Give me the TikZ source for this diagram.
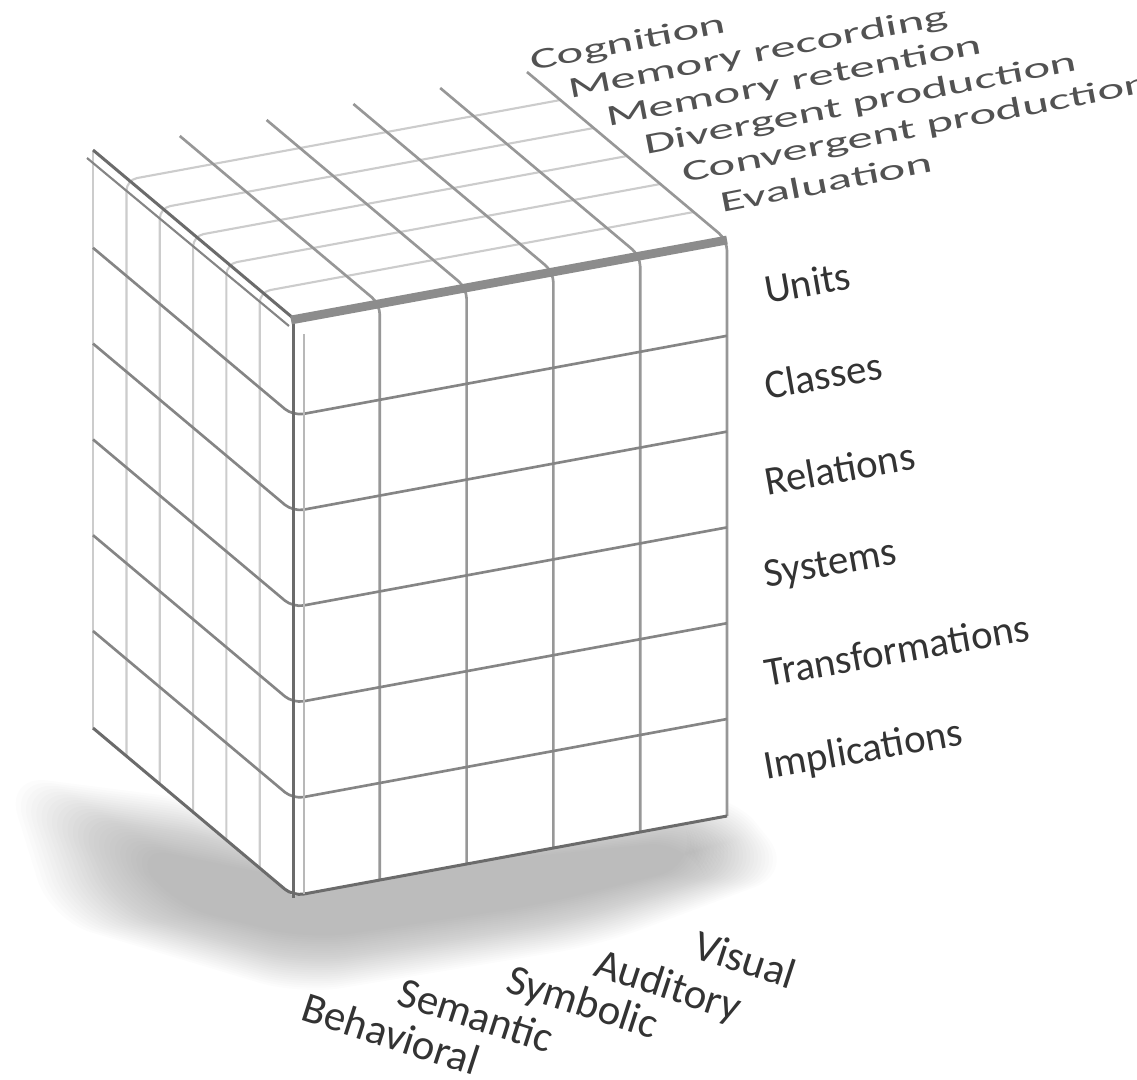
\documentclass[tikz,border=0pt]{standalone}
\usepackage{fontspec}
\setmainfont{Carlito}
\usetikzlibrary{calc}

\definecolor{edgegray}{gray}{0.42}
\definecolor{gridgray}{gray}{0.52}
\definecolor{lightgrid}{gray}{0.80}
\definecolor{labelgray}{gray}{0.20}

\tikzset{
  gridline/.style={draw=gridgray, line width=0.75pt, rounded corners=3pt},
  faintline/.style={draw=lightgrid, line width=0.6pt, rounded corners=3pt},
  edgeline/.style={draw=edgegray, line width=0.85pt},
  oplabel/.style={anchor=west, rotate=10, inner sep=0pt, text=labelgray,
    font=\fontsize{11.6}{13}\selectfont},
  contentlabel/.style={anchor=north west, rotate=-18, inner sep=0pt, text=labelgray,
    font=\fontsize{12.2}{13}\selectfont},
  prodlabel/.style={anchor=west, rotate=11, inner sep=0pt, text=labelgray!85,
    font=\fontsize{11.6}{13}\selectfont}
}

\begin{document}
\begin{tikzpicture}[x=0.01cm, y=-0.01cm]
    \useasboundingbox (0,0) rectangle (1137,1079);

    % Shadow under the cube
    \coordinate (so1) at (5,775);   \coordinate (si1) at (130,845);
    \coordinate (so2) at (200,800); \coordinate (si2) at (250,870);
    \coordinate (so3) at (300,860); \coordinate (si3) at (300,880);
    \coordinate (so4) at (730,790); \coordinate (si4) at (690,840);
    \coordinate (so5) at (795,872); \coordinate (si5) at (700,865);
    \coordinate (so6) at (600,945); \coordinate (si6) at (540,905);
    \coordinate (so7) at (300,995); \coordinate (si7) at (310,940);
    \coordinate (so8) at (50,920);  \coordinate (si8) at (170,905);
    \foreach \t in {0,0.04,...,1.01}
        \fill[black, opacity=0.012, rounded corners=12pt]
            ($(so1)!\t!(si1)$) -- ($(so2)!\t!(si2)$) -- ($(so3)!\t!(si3)$) -- ($(so4)!\t!(si4)$)
            -- ($(so5)!\t!(si5)$) -- ($(so6)!\t!(si6)$) -- ($(so7)!\t!(si7)$) -- ($(so8)!\t!(si8)$) -- cycle;

    % Faces
    \fill[white] (93,152) -- (293,320) -- (293,896) -- (93,728) -- cycle;
    \fill[white] (93,152) -- (293,320) -- (727,240) -- (527,72) -- cycle;
    \fill[white] (293,320) -- (727,240) -- (727,816) -- (293,896) -- cycle;

    % Left face verticals running on into the top face
    \draw[faintline] (93,728) -- (93,152);
    \foreach \k in {1,...,5}
        \draw[faintline] (293-33.3*\k,896-28*\k) -- (293-33.3*\k,320-28*\k)
            -- (727-33.3*\k,240-28*\k);

    % Front face columns running on into the top face
    \foreach \i in {1,...,5}
        \draw[gridline, draw=gridgray!85] (293+86.8*\i,896-16*\i) -- (293+86.8*\i,320-16*\i)
            -- (93+86.8*\i,152-16*\i);

    % Rows wrapping from the left face onto the front face
    \foreach \j in {1,...,5}
        \draw[gridline] (93,152+95.8*\j) -- (293,320+95.8*\j) -- (727,240+95.8*\j);
    \draw[edgeline, rounded corners=3pt] (93,728) -- (293,896) -- (727,816);

    % Cube edges
    \draw[edgeline] (293,322) -- (293,898);
    \draw[draw=lightgrid!90!black, line width=0.7pt] (304,334) -- (304,894);
    \draw[edgeline] (93,150) -- (293,318);
    \draw[draw=gridgray, line width=0.6pt] (87,158) -- (289,326);
    \draw[draw=gray!90, line width=2.5pt] (291,320) -- (727,240);

    % Operations (rows)
    \foreach \name/\txt [count=\j from 0] in {units/Units, classes/Classes, relations/Relations,
            systems/Systems, transformations/Transformations, implications/Implications}
        \node[oplabel] (\name) at (764,290+95.8*\j) {\txt};

    % Contents (columns)
    \node[contentlabel] (behavioral) at (308,990) {Behavioral};
    \node[contentlabel] (semantic)   at (404,975) {Semantic};
    \node[contentlabel] (symbolic)   at (513,962) {Symbolic};
    \node[contentlabel] (auditory)   at (601,946) {Auditory};
    \node[contentlabel] (visual)     at (700,928) {Visual};

    % Products (depth)
    \foreach \name/\txt [count=\k from 0] in {evaluation/Evaluation,
            convergent/Convergent production, divergent/Divergent production,
            retention/Memory retention, recording/Memory recording, cognition/Cognition}
        \node[prodlabel] (\name) at (720-38*\k,203-28*\k) {\scalebox{1.25}[0.72]{\txt}};
\end{tikzpicture}
\end{document}
